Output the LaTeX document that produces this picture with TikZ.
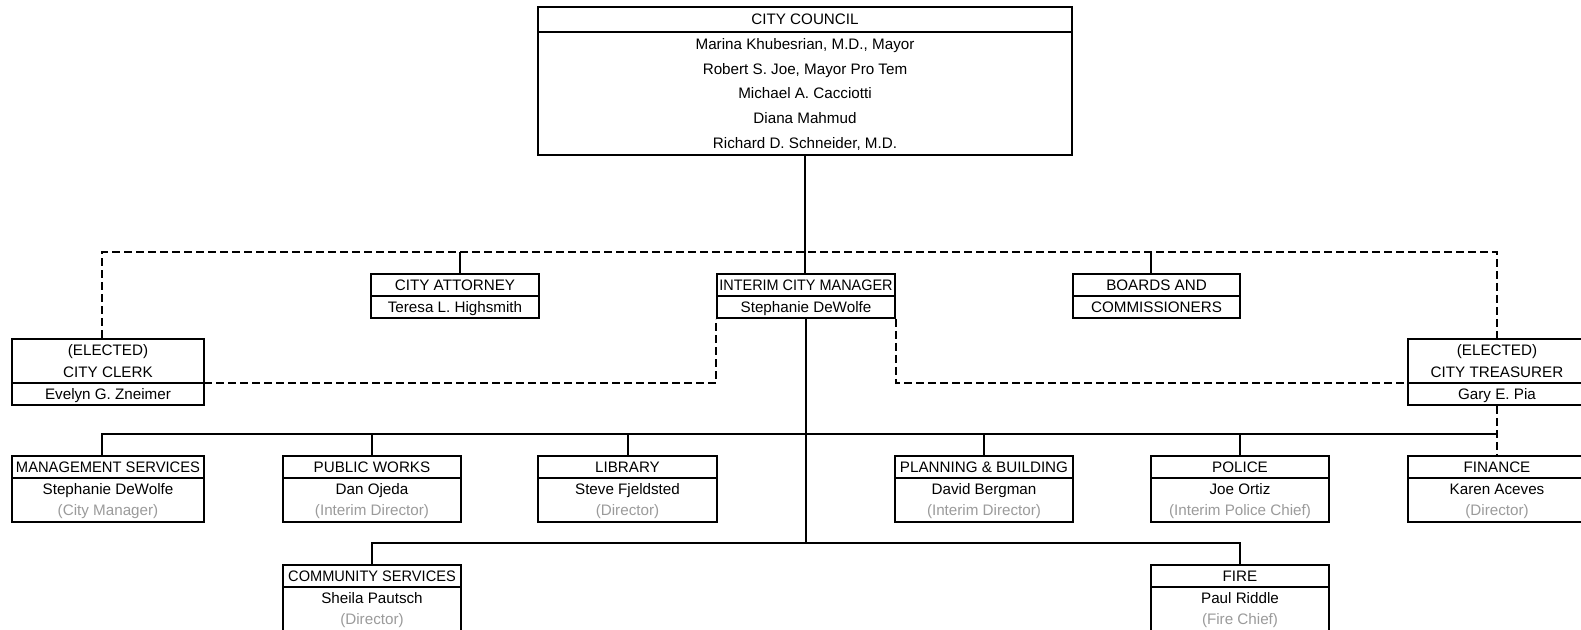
\documentclass[tikz,border=0pt]{standalone}
\usepackage{fontspec}
\setmainfont{Liberation Sans}
\usepackage{graphicx}
\usetikzlibrary{fit}
\definecolor{rolegray}{RGB}{155,155,155}
\tikzset{
  orgbox/.style={draw, line width=1pt, inner sep=0pt, fit={#1}},
  divline/.style={line width=0.65pt},
  txt/.style={inner sep=0pt, font=\fontsize{7.6}{9}\selectfont, anchor=center, text height=5.45pt, text depth=0pt},
  role/.style={txt, text=rolegray},
  link/.style={line width=1pt},
  dlink/.style={line width=1pt, dash pattern=on 4pt off 2pt},
}
\begin{document}
\begin{tikzpicture}[x=0.5pt, y=-0.5pt]
\useasboundingbox (0,0) rectangle (1581,630);
\clip (0,0) rectangle (1581,630);
\fill[white] (0,0) rectangle (1581,630);

% ---------- City council ----------
\node[orgbox={(538,7) (1072,155)}] (council) {};
\draw[divline] (538,32) -- (1072,32);
\node[txt] (council-h) at (805,19.5) {CITY COUNCIL};
\node[txt] (council-1) at (805,44.3) {Marina Khubesrian, M.D., Mayor};
\node[txt] (council-2) at (805,68.9) {Robert S. Joe, Mayor Pro Tem};
\node[txt] (council-3) at (805,93.5) {Michael A. Cacciotti};
\node[txt] (council-4) at (805,118.1) {Diana Mahmud};
\node[txt] (council-5) at (805,142.7) {Richard D. Schneider, M.D.};

% ---------- Second row ----------
\node[orgbox={(371,274) (539,318)}] (att) {};
\draw[divline] (371,296) -- (539,296);
\node[txt] (att-h) at (455,285) {CITY ATTORNEY};
\node[txt] (att-1) at (455,307) {Teresa L. Highsmith};

\node[orgbox={(717,274) (895,318)}] (mgr) {};
\draw[divline] (717,296) -- (895,296);
\node[txt] (mgr-h) at (806,285) {\scalebox{0.95}[1]{INTERIM CITY MANAGER}};
\node[txt] (mgr-1) at (806,307) {Stephanie DeWolfe};

\node[orgbox={(1073,274) (1240,318)}] (boards) {};
\draw[divline] (1073,296) -- (1240,296);
\node[txt] (boards-h) at (1156.5,285) {BOARDS AND};
\node[txt] (boards-1) at (1156.5,307) {COMMISSIONERS};

% ---------- Elected officers ----------
\node[orgbox={(12,339) (204,405)}] (clerk) {};
\draw[divline] (12,383) -- (204,383);
\node[txt] (clerk-h1) at (108,350) {(ELECTED)};
\node[txt] (clerk-h2) at (108,372) {CITY CLERK};
\node[txt] (clerk-1) at (108,394) {Evelyn G. Zneimer};

\node[orgbox={(1408,339) (1586,405)}] (treas) {};
\draw[divline] (1408,383) -- (1586,383);
\node[txt] (treas-h1) at (1497,350) {(ELECTED)};
\node[txt] (treas-h2) at (1497,372) {CITY TREASURER};
\node[txt] (treas-1) at (1497,394) {Gary E. Pia};

% ---------- Departments ----------
\node[orgbox={(12,456) (204,522)}] (mgmt) {};
\draw[divline] (12,478) -- (204,478);
\node[txt] (mgmt-h) at (108,467) {\scalebox{0.97}[1]{MANAGEMENT SERVICES}};
\node[txt] (mgmt-1) at (108,489) {Stephanie DeWolfe};
\node[role] (mgmt-2) at (108,510) {(City Manager)};

\node[orgbox={(283,456) (461,522)}] (pw) {};
\draw[divline] (283,478) -- (461,478);
\node[txt] (pw-h) at (372,467) {PUBLIC WORKS};
\node[txt] (pw-1) at (372,489) {Dan Ojeda};
\node[role] (pw-2) at (372,510) {(Interim Director)};

\node[orgbox={(538,456) (717,522)}] (lib) {};
\draw[divline] (538,478) -- (717,478);
\node[txt] (lib-h) at (627.5,467) {LIBRARY};
\node[txt] (lib-1) at (627.5,489) {Steve Fjeldsted};
\node[role] (lib-2) at (627.5,510) {(Director)};

\node[orgbox={(895,456) (1073,522)}] (plan) {};
\draw[divline] (895,478) -- (1073,478);
\node[txt] (plan-h) at (984,467) {PLANNING \& BUILDING};
\node[txt] (plan-1) at (984,489) {David Bergman};
\node[role] (plan-2) at (984,510) {(Interim Director)};

\node[orgbox={(1151,456) (1329,522)}] (pol) {};
\draw[divline] (1151,478) -- (1329,478);
\node[txt] (pol-h) at (1240,467) {POLICE};
\node[txt] (pol-1) at (1240,489) {Joe Ortiz};
\node[role] (pol-2) at (1240,510) {(Interim Police Chief)};

\node[orgbox={(1408,456) (1586,522)}] (fin) {};
\draw[divline] (1408,478) -- (1586,478);
\node[txt] (fin-h) at (1497,467) {FINANCE};
\node[txt] (fin-1) at (1497,489) {Karen Aceves};
\node[role] (fin-2) at (1497,510) {(Director)};

\node[orgbox={(283,565) (461,634)}] (comm) {};
\draw[divline] (283,587) -- (461,587);
\node[txt] (comm-h) at (372,576) {\scalebox{0.96}[1]{COMMUNITY SERVICES}};
\node[txt] (comm-1) at (372,598) {Sheila Pautsch};
\node[role] (comm-2) at (372,619) {(Director)};

\node[orgbox={(1151,565) (1329,634)}] (fire) {};
\draw[divline] (1151,587) -- (1329,587);
\node[txt] (fire-h) at (1240,576) {FIRE};
\node[txt] (fire-1) at (1240,598) {Paul Riddle};
\node[role] (fire-2) at (1240,619) {(Fire Chief)};

% ---------- Connector coordinates ----------
\coordinate (dtL) at (102,252);
\coordinate (dtR) at (1497,252);
\coordinate (attc) at (460,252);
\coordinate (bdc) at (1151,252);
\coordinate (clerkR) at (204,383);
\coordinate (treasL) at (1408,383);
\coordinate (bus1L) at (102,434);
\coordinate (bus1R) at (1497,434);
\coordinate (bus2L) at (372,543);
\coordinate (bus2R) at (1240,543);

% ---------- Connectors ----------
\draw[dlink] (dtL |- clerk.north) -- (dtL) -- (dtR) -- (dtR |- treas.north);
\draw[link] (council.south) -- (council.south |- mgr.north);
\draw[link] (attc) -- (attc |- att.north);
\draw[link] (bdc) -- (bdc |- boards.north);
\draw[dlink] (clerkR) -- (clerkR -| mgr.south west) -- (mgr.south west);
\draw[dlink] (mgr.south east) -- (mgr.south east |- treasL) -- (treasL);

\draw[link] (mgr.south) -- (mgr.south |- bus2L);
\draw[link] (bus1L |- mgmt.north) -- (bus1L) -- (bus1R);
\draw[link] (pw.north) -- (pw.north |- bus1L);
\draw[link] (lib.north) -- (lib.north |- bus1L);
\draw[link] (plan.north) -- (plan.north |- bus1L);
\draw[link] (pol.north) -- (pol.north |- bus1L);
\draw[dlink] (treas.south) -- (fin.north);
\draw[link] (comm.north) -- (bus2L) -- (bus2R) -- (fire.north);
\end{tikzpicture}
\end{document}
